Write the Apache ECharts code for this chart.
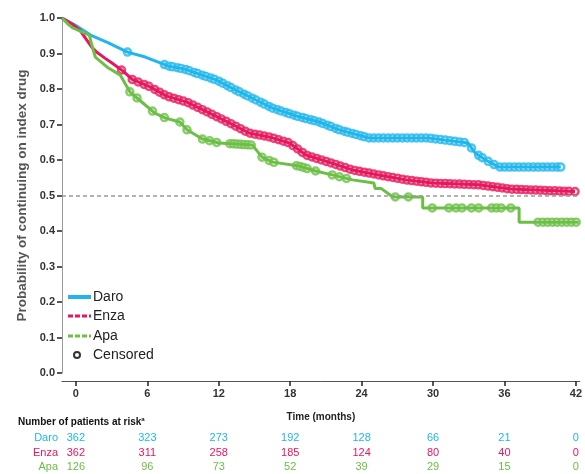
<!DOCTYPE html>
<html>
<head>
<meta charset="utf-8">
<script src="https://cdn.jsdelivr.net/npm/echarts@6.0.0/dist/echarts.min.js"></script>
<style>
  html, body { margin: 0; padding: 0; background: #fff; }
  #main { width: 585px; height: 474px; }
</style>
</head>
<body>
<div id="main"></div>
<script>
// KM curves, months vs probability still on index drug
const daroT = [0, 1.1, 2.4, 3.9, 5.5, 7.0, 8.9, 10.3, 13.0, 14.6, 16.3, 17.7, 19.7, 21.6, 23.3, 24.9, 25.8, 30.8, 32.2, 34.1, 34.7, 35.6, 36.7, 41.9];
const daroP = [1.0, 0.98, 0.952, 0.93, 0.904, 0.89, 0.865, 0.856, 0.825, 0.797, 0.769, 0.746, 0.724, 0.707, 0.685, 0.67, 0.662, 0.662, 0.656, 0.648, 0.62, 0.6, 0.58, 0.58];

const enzaT = [0, 0.84, 1.5, 2.1, 2.5, 2.9, 3.6, 4.2, 5.1, 5.9, 7.4, 8.8, 10.5, 12.4, 14.1, 15.7, 17.4, 19.1, 20.5, 22.4, 24.4, 26.6, 28.9, 31.1, 35.0, 37.7, 43.1];
const enzaP = [1.0, 0.983, 0.966, 0.937, 0.918, 0.904, 0.887, 0.873, 0.851, 0.827, 0.806, 0.78, 0.763, 0.732, 0.704, 0.676, 0.665, 0.648, 0.614, 0.594, 0.572, 0.558, 0.544, 0.535, 0.53, 0.518, 0.511];

const apaT = [0, 0.5, 0.9, 2.3, 2.5, 2.8, 3.9, 4.9, 5.7, 6.5, 7.8, 8.7, 9.9, 10.5, 11.8, 13.2, 16.0, 16.8, 17.7, 19.9, 21.3, 22.7, 24.4, 26.2, 26.3, 26.8, 27.8, 30.3, 30.3, 38.4, 38.4, 43.4];
const apaP = [1.0, 0.983, 0.972, 0.952, 0.924, 0.89, 0.859, 0.839, 0.792, 0.769, 0.732, 0.718, 0.707, 0.685, 0.659, 0.648, 0.642, 0.608, 0.594, 0.583, 0.569, 0.558, 0.544, 0.535, 0.52, 0.52, 0.496, 0.496, 0.465, 0.465, 0.425, 0.425];

// censoring times (months)
const daroCens = [5.5, 8.6, 9.0, 9.3, 9.7, 10.0, 10.4, 10.7, 11.1, 11.4, 11.8, 12.1, 12.5, 12.8, 13.2, 13.5, 13.9, 14.2, 14.6, 14.9, 15.3, 15.6, 16.0, 16.3, 16.7, 17.0, 17.4, 17.7, 18.1, 18.4, 18.8, 19.1, 19.5, 19.8, 20.2, 20.5, 20.9, 21.2, 21.6, 21.9, 22.3, 22.6, 23.0, 23.3, 23.7, 24.0, 24.4, 24.7, 25.1, 25.4, 25.8, 26.2, 26.6, 27.0, 27.4, 27.8, 28.2, 28.6, 29.0, 29.4, 29.8, 30.2, 30.6, 31.0, 31.4, 31.8, 32.2, 32.6, 33.0, 33.4, 33.8, 34.4, 35.0, 35.3, 35.8, 36.3, 36.8, 37.2, 37.6, 38.0, 38.4, 38.8, 39.2, 39.6, 40.0, 40.4, 40.8, 41.2, 41.6, 41.9];
const enzaCens = [5.0, 5.9, 6.4, 6.9, 7.3, 7.8, 8.2, 8.6, 9.0, 9.4, 9.8, 10.2, 10.6, 11.0, 11.4, 11.8, 12.2, 12.6, 13.0, 13.4, 13.8, 14.2, 14.6, 15.0, 15.4, 15.8, 16.2, 16.6, 17.0, 17.4, 17.8, 18.2, 18.6, 19.0, 19.4, 19.8, 20.2, 20.6, 21.0, 21.4, 21.8, 22.2, 22.6, 23.0, 23.4, 23.8, 24.2, 24.6, 25.0, 25.4, 25.8, 26.2, 26.6, 27.0, 27.4, 27.8, 28.2, 28.6, 29.0, 29.4, 29.8, 30.2, 30.6, 31.0, 31.4, 31.8, 32.2, 32.6, 33.0, 33.4, 33.8, 34.2, 34.6, 35.0, 35.4, 35.8, 36.2, 36.6, 37.0, 37.4, 37.8, 38.2, 38.6, 39.0, 39.4, 39.8, 40.2, 40.6, 41.0, 41.4, 41.8, 42.2, 42.6, 43.1];
const apaCens = [5.7, 6.3, 7.6, 8.6, 9.9, 10.5, 11.8, 12.4, 13.0, 14.1, 14.4, 14.7, 15.0, 15.3, 15.6, 15.9, 16.8, 17.4, 17.8, 19.7, 20.0, 20.3, 20.6, 21.3, 22.7, 23.3, 23.9, 28.0, 29.1, 31.1, 32.5, 33.1, 33.6, 34.4, 35.0, 36.1, 36.5, 36.9, 37.7, 40.0, 40.4, 40.8, 41.2, 41.6, 42.0, 42.4, 42.8, 43.2];

// number at risk table
const riskTimes = [0, 6, 12, 18, 24, 30, 36, 42];
const daroRisk = [362, 323, 273, 192, 128, 66, 21, 0];
const enzaRisk = [362, 311, 258, 185, 124, 80, 40, 0];
const apaRisk = [126, 96, 73, 52, 39, 29, 15, 0];

const BLUE = '#1fb6ee';
const RED = '#e8175b';
const GREEN = '#6cbf45';
const FONT = 'Arial, "Liberation Sans", sans-serif';

function pairs(T, P) {
  return T.map((t, i) => [t, P[i]]);
}

// place a censor mark on the curve
function along(T, P, t) {
  for (let i = 0; i < T.length - 1; i++) {
    if (t >= T[i] && t <= T[i + 1]) {
      if (T[i + 1] === T[i]) return P[i + 1];
      const f = (t - T[i]) / (T[i + 1] - T[i]);
      return P[i] + f * (P[i + 1] - P[i]);
    }
  }
  return P[P.length - 1];
}

function censPts(T, P, C) {
  return C.map(t => [t, along(T, P, t)]);
}

function curve(name, T, P, color, extra) {
  return Object.assign({
    name: name,
    type: 'line',
    xAxisIndex: 1,
    data: pairs(T, P),
    showSymbol: false,
    lineStyle: { color: color, width: 3 },
    itemStyle: { color: color },
    animation: false
  }, extra || {});
}

function cens(name, T, P, C, color) {
  return {
    name: name + ' censored',
    type: 'scatter',
    xAxisIndex: 1,
    data: censPts(T, P, C),
    symbol: 'circle',
    symbolSize: 7,
    itemStyle: { color: '#fff', borderColor: color, borderWidth: 2.5 },
    animation: false
  };
}

let myChart = echarts.init(document.getElementById('main'));

let option = {
  backgroundColor: '#fff',
  grid: { left: 62, top: 18, right: 3, bottom: 101 },
  xAxis: [
    {
      type: 'value',
      min: -1.17,
      max: 42.33,
      offset: 8,
      name: 'Time (months)',
      nameLocation: 'middle',
      nameGap: 31,
      nameTextStyle: { fontFamily: FONT, fontSize: 10, fontWeight: 'bold', color: '#222' },
      axisLine: { show: true, onZero: false, lineStyle: { color: '#555', width: 1 } },
      axisTick: { show: true, length: 5, customValues: riskTimes, lineStyle: { color: '#222', width: 1.5 } },
      axisLabel: { customValues: riskTimes, fontFamily: FONT, fontSize: 11, fontWeight: 'bold', color: '#333', margin: 7 },
      splitLine: { show: false }
    },
    {
      // data axis: curves start at the y axis line
      type: 'value',
      show: false,
      min: 0,
      max: 43.5,
      splitLine: { show: false }
    }
  ],
  yAxis: {
    type: 'value',
    min: 0,
    max: 1,
    interval: 0.1,
    name: 'Probability of continuing on index drug',
    nameLocation: 'middle',
    nameGap: 32,
    nameTextStyle: { fontFamily: FONT, fontSize: 13.5, fontWeight: 'bold', color: '#555' },
    axisLine: { show: true, onZero: false, lineStyle: { color: '#999', width: 1 } },
    axisTick: { show: true, length: 5, lineStyle: { color: '#222', width: 1.5 } },
    axisLabel: {
      fontFamily: FONT, fontSize: 11, fontWeight: 'bold', color: '#333', margin: 7,
      formatter: v => v.toFixed(1)
    },
    splitLine: { show: false }
  },
  series: [
    curve('Daro', daroT, daroP, BLUE, {
      markLine: {
        silent: true,
        symbol: 'none',
        label: { show: false },
        lineStyle: { color: '#999', type: [4, 3], width: 1.5 },
        data: [{ yAxis: 0.5 }],
        animation: false
      }
    }),
    cens('Daro', daroT, daroP, daroCens, BLUE),
    curve('Enza', enzaT, enzaP, RED),
    cens('Enza', enzaT, enzaP, enzaCens, RED),
    curve('Apa', apaT, apaP, GREEN),
    cens('Apa', apaT, apaP, apaCens, GREEN)
  ]
};
myChart.setOption(option);

// legend + number at risk table
let g = [];
const legendRows = [
  { name: 'Daro', color: BLUE, y: 297, dash: null, w: 4 },
  { name: 'Enza', color: RED, y: 316, dash: [5, 2], w: 3 },
  { name: 'Apa', color: GREEN, y: 336, dash: [5, 2], w: 3 }
];
legendRows.forEach(r => {
  g.push({
    type: 'line',
    shape: { x1: 68, y1: r.y, x2: 91, y2: r.y },
    style: { stroke: r.color, lineWidth: r.w, lineDash: r.dash }
  });
  g.push({
    type: 'text', x: 93, y: r.y,
    style: { text: r.name, fontFamily: FONT, fontSize: 14, fill: '#222', verticalAlign: 'middle' }
  });
});
g.push({
  type: 'circle',
  shape: { cx: 77, cy: 355, r: 3 },
  style: { fill: 'none', stroke: '#333', lineWidth: 2 }
});
g.push({
  type: 'text', x: 93, y: 355,
  style: { text: 'Censored', fontFamily: FONT, fontSize: 14, fill: '#222', verticalAlign: 'middle' }
});

g.push({
  type: 'text', x: 18, y: 422,
  style: {
    text: '{b|Number of patients at risk}{s|a}',
    rich: {
      b: { fontFamily: FONT, fontSize: 10, fontWeight: 'bold', fill: '#111' },
      s: { fontFamily: FONT, fontSize: 6, fontWeight: 'bold', fill: '#111', verticalAlign: 'top', padding: [0, 0, 5, 0] }
    },
    verticalAlign: 'middle'
  }
});

const riskRows = [
  { name: 'Daro', vals: daroRisk, color: BLUE, y: 438 },
  { name: 'Enza', vals: enzaRisk, color: RED, y: 453 },
  { name: 'Apa', vals: apaRisk, color: GREEN, y: 467 }
];
riskRows.forEach(r => {
  g.push({
    type: 'text', x: 58, y: r.y,
    style: { text: r.name, fontFamily: FONT, fontSize: 11, fill: r.color, align: 'right', verticalAlign: 'middle' }
  });
  r.vals.forEach((v, i) => {
    let px = myChart.convertToPixel({ xAxisIndex: 0 }, riskTimes[i]);
    g.push({
      type: 'text', x: px, y: r.y,
      style: { text: String(v), fontFamily: FONT, fontSize: 11, fill: r.color, align: 'center', verticalAlign: 'middle' }
    });
  });
});

myChart.setOption({ graphic: g });
</script>
</body>
</html>
